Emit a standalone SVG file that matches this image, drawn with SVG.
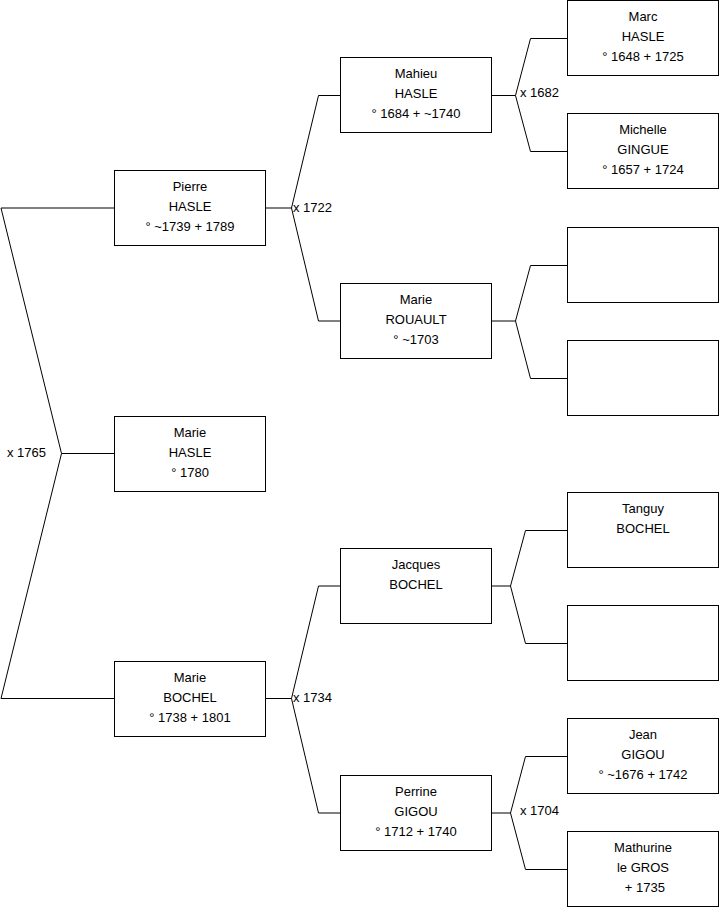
<svg xmlns="http://www.w3.org/2000/svg" width="719" height="908" viewBox="0 0 719 908">
<style>
rect{fill:#fff;stroke:#000;stroke-width:1}
text{font-family:"Liberation Sans",Arial,sans-serif;font-size:13px;fill:#000}
.c{text-anchor:middle}
#connectors path{fill:none;stroke:#000;stroke-width:1}
</style>
<rect x="0" y="0" width="719" height="908" style="fill:#fff;stroke:none"/>
<g id="connectors">
<path d="M1,208 H114.5 M1,208 L61.5,453.5 H114.5 M61.5,453.5 L1,698.5 H114.5"/>
<path d="M265.5,208 H291.5 M291.5,208 L318.5,95.5 H340.5 M291.5,208 L318.5,321 H340.5"/>
<path d="M265.5,698.5 H291.5 M291.5,698.5 L318.5,586 H340.5 M291.5,698.5 L318.5,813 H340.5"/>
<path d="M491.5,95.5 H515.5 M515.5,95.5 L530.5,38.5 H567.5 M515.5,95.5 L530.5,151.5 H567.5"/>
<path d="M491.5,321 H515.5 M515.5,321 L530.5,265.5 H567.5 M515.5,321 L530.5,378.5 H567.5"/>
<path d="M491.5,586 H510.5 M510.5,586 L525.5,530.5 H567.5 M510.5,586 L525.5,643.5 H567.5"/>
<path d="M491.5,813 H510.5 M510.5,813 L525.5,756.5 H567.5 M510.5,813 L525.5,869.5 H567.5"/>
<text x="7" y="456.5">x 1765</text>
<text x="293" y="212">x 1722</text>
<text x="520" y="96.5">x 1682</text>
<text x="293" y="702">x 1734</text>
<text x="520" y="814.5">x 1704</text>
</g>
<g id="pierre"><rect x="114.5" y="170.5" width="151" height="75"/><text class="c" x="190" y="190.5">Pierre</text><text class="c" x="190" y="210.5">HASLE</text><text class="c" x="190" y="230.5">° ~1739 + 1789</text></g>
<g id="marie-hasle"><rect x="114.5" y="416.5" width="151" height="75"/><text class="c" x="190" y="436.5">Marie</text><text class="c" x="190" y="456.5">HASLE</text><text class="c" x="190" y="476.5">° 1780</text></g>
<g id="marie-bochel"><rect x="114.5" y="661.5" width="151" height="75"/><text class="c" x="190" y="681.5">Marie</text><text class="c" x="190" y="701.5">BOCHEL</text><text class="c" x="190" y="721.5">° 1738 + 1801</text></g>
<g id="mahieu"><rect x="340.5" y="57.5" width="151" height="75"/><text class="c" x="416" y="77.5">Mahieu</text><text class="c" x="416" y="97.5">HASLE</text><text class="c" x="416" y="117.5">° 1684 + ~1740</text></g>
<g id="marie-rouault"><rect x="340.5" y="283.5" width="151" height="75"/><text class="c" x="416" y="303.5">Marie</text><text class="c" x="416" y="323.5">ROUAULT</text><text class="c" x="416" y="343.5">° ~1703</text></g>
<g id="jacques"><rect x="340.5" y="548.5" width="151" height="75"/><text class="c" x="416" y="568.5">Jacques</text><text class="c" x="416" y="588.5">BOCHEL</text></g>
<g id="perrine"><rect x="340.5" y="775.5" width="151" height="75"/><text class="c" x="416" y="795.5">Perrine</text><text class="c" x="416" y="815.5">GIGOU</text><text class="c" x="416" y="835.5">° 1712 + 1740</text></g>
<g id="marc"><rect x="567.5" y="0.5" width="151" height="75"/><text class="c" x="643" y="20.5">Marc</text><text class="c" x="643" y="40.5">HASLE</text><text class="c" x="643" y="60.5">° 1648 + 1725</text></g>
<g id="michelle"><rect x="567.5" y="113.5" width="151" height="75"/><text class="c" x="643" y="133.5">Michelle</text><text class="c" x="643" y="153.5">GINGUE</text><text class="c" x="643" y="173.5">° 1657 + 1724</text></g>
<g id="empty1"><rect x="567.5" y="227.5" width="151" height="75"/></g>
<g id="empty2"><rect x="567.5" y="340.5" width="151" height="75"/></g>
<g id="tanguy"><rect x="567.5" y="492.5" width="151" height="75"/><text class="c" x="643" y="512.5">Tanguy</text><text class="c" x="643" y="532.5">BOCHEL</text></g>
<g id="empty3"><rect x="567.5" y="605.5" width="151" height="75"/></g>
<g id="jean"><rect x="567.5" y="718.5" width="151" height="75"/><text class="c" x="643" y="738.5">Jean</text><text class="c" x="643" y="758.5">GIGOU</text><text class="c" x="643" y="778.5">° ~1676 + 1742</text></g>
<g id="mathurine"><rect x="567.5" y="831.5" width="151" height="75"/><text class="c" x="643" y="851.5">Mathurine</text><text class="c" x="643" y="871.5">le GROS</text><text class="c" x="643" y="891.5" xml:space="preserve"> + 1735</text></g>
</svg>
